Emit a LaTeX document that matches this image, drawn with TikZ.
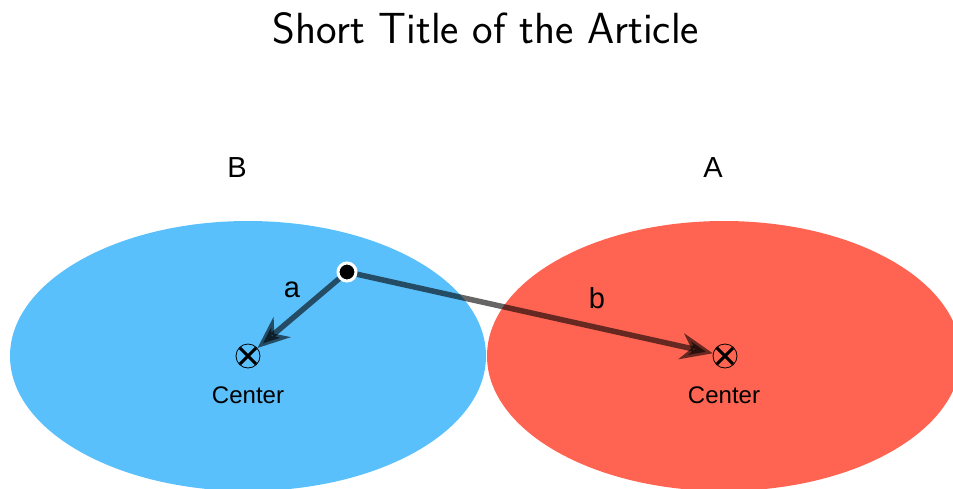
\documentclass[tikz,border=0pt]{standalone}
\usepackage{fontspec}
\newfontfamily\labfont{Liberation Sans}
\usetikzlibrary{arrows.meta}
\definecolor{setblue}{RGB}{90,192,251}
\definecolor{setred}{RGB}{255,100,82}
\tikzset{
  lab/.style={font=\labfont\fontsize{29}{34}\selectfont, inner sep=0pt},
  centerlab/.style={font=\labfont\fontsize{24}{28}\selectfont, inner sep=0pt},
  marker/.style={circle, draw=black, line width=0.8pt, minimum size=24pt, inner sep=0pt},
  crossline/.style={line width=3pt, shorten >=1pt, shorten <=1pt},
  dotnode/.style={circle, fill=black, draw=white, line width=3pt, minimum size=18pt, inner sep=0pt},
  vec/.style={line width=5.5pt, opacity=0.6, -{Stealth[length=32pt,width=26pt,inset=10pt]}}
}
\begin{document}
\begin{tikzpicture}[x=1pt,y=-1pt]
\useasboundingbox (0,0) rectangle (953,488);
\begin{scope}
  \clip (0,0) rectangle (953,488);
  \fill[setblue] (248,356) ellipse [x radius=238, y radius=135];
  \fill[setred] (724,356) ellipse [x radius=237, y radius=135];
\end{scope}

\node[font=\sffamily\fontsize{43.6}{50}\selectfont, anchor=base, inner sep=0pt] (title) at (486,43) {Short Title of the Article};

\node[lab] (lB) at (237,168) {B};
\node[lab] (lA) at (713,168) {A};
\node[lab] (la) at (292,290) {a};
\node[lab] (lb) at (597,298) {b};

\node[marker] (cB) at (248,356) {};
\draw[crossline] (cB.north west) -- (cB.south east);
\draw[crossline] (cB.north east) -- (cB.south west);
\node[marker] (cA) at (725,356) {};
\draw[crossline] (cA.north west) -- (cA.south east);
\draw[crossline] (cA.north east) -- (cA.south west);

\node[centerlab] (tB) at (248,395) {Center};
\node[centerlab] (tA) at (724,395) {Center};

\coordinate (pc) at (347,272);
\draw[vec] (pc) -- (cB);
\draw[vec] (pc) -- (cA);
\node[dotnode] (p) at (pc) {};
\end{tikzpicture}
\end{document}
